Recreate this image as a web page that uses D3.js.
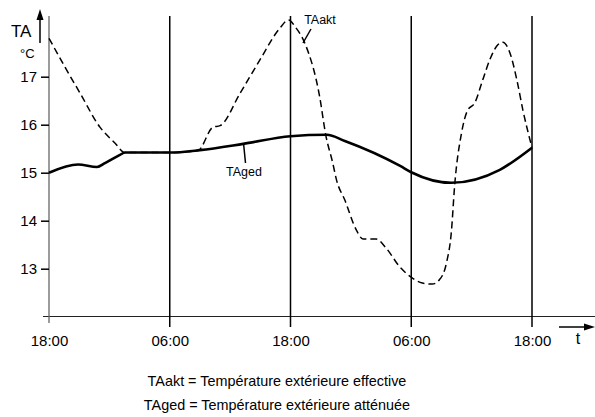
<!DOCTYPE html>
<html><head><meta charset="utf-8">
<script src="https://cdn.jsdelivr.net/npm/d3@7"></script>
<style>body{margin:0;background:#fff}svg{display:block}text{font-family:"Liberation Sans",Arial,sans-serif}</style>
</head><body><svg id="c" width="595" height="417"></svg>
<script>
// hours from first 18:00
const xTickHours = [0, 12, 24, 36, 48];
const xTickLabels = ["18:00", "06:00", "18:00", "06:00", "18:00"];
const yTickValues = [13, 14, 15, 16, 17];

const tagedHours = [0, 2.9, 4.77, 5.56, 7.05, 7.55, 12, 15, 19.3, 24, 27.6, 29.4, 34.9, 36, 40, 44.8, 48];
const tagedValues = [15.0, 15.17, 15.12, 15.2, 15.37, 15.42, 15.42, 15.47, 15.6, 15.76, 15.79, 15.66, 15.14, 15.01, 14.79, 15.06, 15.52];

const taaktHours = [0, 1.59, 3.08, 5.06, 6.55, 7.55, 12, 14.8, 16.3, 17.0, 19.0, 20.96, 22.9, 23.8, 24.5, 25.5, 26.9, 27.5, 28.2, 28.57, 29.4, 30.56, 31.2, 32.5, 33.5, 34.85, 35.95, 37.1, 38.1, 38.8, 39.5, 40.0, 40.3, 41.0, 41.6, 42.3, 43.1, 43.8, 44.5, 45.1, 45.8, 46.5, 47.1, 48];
const taaktValues = [17.8, 17.2, 16.66, 15.95, 15.62, 15.42, 15.42, 15.46, 15.95, 15.98, 16.66, 17.35, 18.0, 18.18, 18.03, 17.66, 16.58, 15.79, 15.2, 14.85, 14.43, 13.8, 13.62, 13.62, 13.43, 13.04, 12.83, 12.70, 12.68, 12.77, 13.12, 13.8, 14.7, 15.83, 16.3, 16.45, 16.93, 17.35, 17.64, 17.72, 17.5, 16.93, 16.3, 15.52];

const legendLines = ["TAakt = Température extérieure effective", "TAged = Température extérieure atténuée"];

const svg = d3.select("#c");
const x = d3.scaleLinear().domain([0, 48]).range([49, 532]);
const y = d3.scaleLinear().domain([12, 18]).range([316.7, 28.7]);

// x axis baseline
svg.append("line").attr("x1", 43).attr("x2", 595).attr("y1", 316.5).attr("y2", 316.5)
  .attr("stroke", "#222").attr("stroke-width", 1);

// vertical lines (time grid)
svg.append("g").selectAll("line").data(xTickHours).join("line")
  .attr("x1", d => x(d)).attr("x2", d => x(d))
  .attr("y1", 16).attr("y2", (d, i) => i === 0 ? 323 : 327)
  .attr("stroke", (d, i) => i === 0 ? "#666" : "#000")
  .attr("stroke-width", (d, i) => i === 0 ? 1.3 : 1.5);

// x axis labels
const xa = d3.axisBottom(x).tickValues(xTickHours).tickFormat((d, i) => xTickLabels[i]).tickSize(0).tickPadding(19);
const gx = svg.append("g").attr("transform", "translate(0,316.5)").call(xa);
gx.select(".domain").remove();
gx.selectAll("text").attr("font-size", 15).attr("fill", "#000").attr("font-family", "Liberation Sans, Arial, sans-serif");

// y axis
const ya = d3.axisLeft(y).tickValues(yTickValues).tickFormat(d3.format("d")).tickSize(8).tickPadding(4);
const gy = svg.append("g").attr("transform", "translate(49,0)").call(ya);
gy.select(".domain").remove();
gy.selectAll(".tick line").attr("stroke", "#000").attr("stroke-width", 1.5);
gy.selectAll("text").attr("font-size", 15).attr("fill", "#000").attr("font-family", "Liberation Sans, Arial, sans-serif");

// TA arrow
svg.append("line").attr("x1", 40).attr("x2", 40).attr("y1", 43).attr("y2", 18).attr("stroke", "#000").attr("stroke-width", 1.5);
svg.append("path").attr("d", "M40,9 L36.5,20 L43.5,20 Z").attr("fill", "#000");
svg.append("text").attr("x", 11).attr("y", 37).attr("font-size", 17).text("TA");
svg.append("text").attr("x", 20).attr("y", 58).attr("font-size", 13).text("°C");

// t arrow
svg.append("line").attr("x1", 559).attr("x2", 586).attr("y1", 327).attr("y2", 327).attr("stroke", "#000").attr("stroke-width", 1.5);
svg.append("path").attr("d", "M595,327 L584,323.5 L584,330.5 Z").attr("fill", "#000");
svg.append("text").attr("x", 578).attr("y", 344).attr("font-size", 16).attr("text-anchor", "middle").text("t");

// curves
const line = d3.line().x(d => x(d[0])).y(d => y(d[1])).curve(d3.curveMonotoneX);
const taged = tagedHours.map((h, i) => [h, tagedValues[i]]);
const taakt = taaktHours.map((h, i) => [h, taaktValues[i]]);

svg.append("path").datum(taakt).attr("d", line).attr("fill", "none")
  .attr("stroke", "#000").attr("stroke-width", 1.5).attr("stroke-dasharray", "7,4");
svg.append("path").datum(taged).attr("d", line).attr("fill", "none")
  .attr("stroke", "#000").attr("stroke-width", 2.6);

// curve labels with leader lines
svg.append("text").attr("x", 320).attr("y", 24).attr("font-size", 12.5).attr("text-anchor", "middle").text("TAakt");
svg.append("line").attr("x1", 311).attr("y1", 29).attr("x2", 303).attr("y2", 43).attr("stroke", "#000").attr("stroke-width", 1.5);
svg.append("text").attr("x", 244).attr("y", 176).attr("font-size", 12.5).attr("text-anchor", "middle").text("TAged");
svg.append("line").attr("x1", 243.5).attr("y1", 143).attr("x2", 245.5).attr("y2", 163).attr("stroke", "#000").attr("stroke-width", 1.5);

// legend
svg.append("g").selectAll("text").data(legendLines).join("text")
  .attr("x", 277).attr("y", (d, i) => 386 + i * 24)
  .attr("font-size", 14.4).attr("text-anchor", "middle").text(d => d);
</script></body></html>
